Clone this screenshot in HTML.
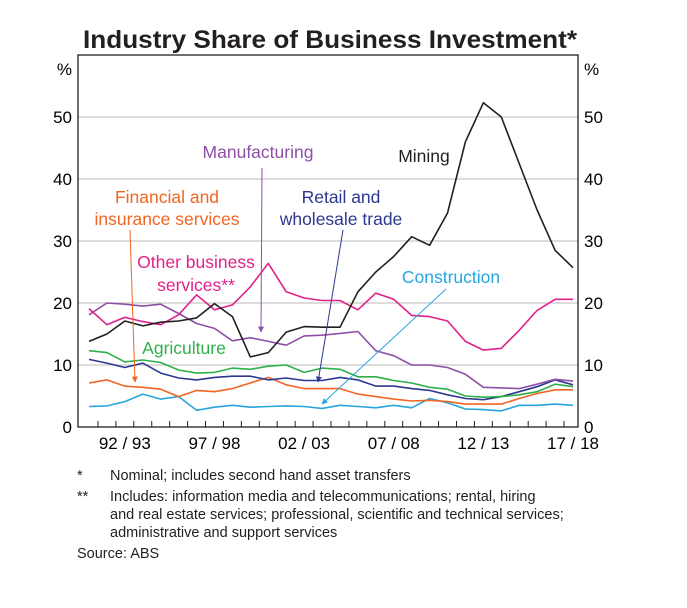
<!DOCTYPE html>
<html><head><meta charset="utf-8"><style>
body{margin:0;background:#fff;font-family:"Liberation Sans",sans-serif;}
svg text{font-family:"Liberation Sans",sans-serif;}
</style></head><body>
<svg id="chart" width="687" height="603" viewBox="0 0 687 603" xmlns="http://www.w3.org/2000/svg">
<defs>
<marker id="ah-orange" viewBox="0 0 10 10" refX="9" refY="5" markerWidth="6" markerHeight="8" orient="auto"><path d="M0,0L10,5L0,10z" fill="#f26522"/></marker>
<marker id="ah-purple" viewBox="0 0 10 10" refX="9" refY="5" markerWidth="6" markerHeight="8" orient="auto"><path d="M0,0L10,5L0,10z" fill="#8e4fa6"/></marker>
<marker id="ah-navy" viewBox="0 0 10 10" refX="9" refY="5" markerWidth="6" markerHeight="8" orient="auto"><path d="M0,0L10,5L0,10z" fill="#2b3990"/></marker>
<marker id="ah-blue" viewBox="0 0 10 10" refX="9" refY="5" markerWidth="6" markerHeight="8" orient="auto"><path d="M0,0L10,5L0,10z" fill="#27a6de"/></marker>
</defs>
<text x="83" y="48" textLength="494" lengthAdjust="spacingAndGlyphs" font-size="25" font-weight="bold" fill="#231f20">Industry Share of Business Investment*</text>
<g id="grid"></g>
<g id="series"></g>
<rect x="78" y="55" width="500" height="372" fill="none" stroke="#231f20" stroke-width="1.3"/>
<g id="axes"></g>
<text x="72" y="75" text-anchor="end" font-size="17">%</text>
<text x="584" y="75" font-size="17">%</text>

<g font-size="17.5">
<text x="258" y="158" text-anchor="middle" fill="#8e4fa6">Manufacturing</text>
<line x1="262" y1="168" x2="261" y2="332" stroke="#8e4fa6" stroke-width="1" marker-end="url(#ah-purple)"/>
<text x="424" y="162" text-anchor="middle" fill="#231f20">Mining</text>
<text x="167" y="203" text-anchor="middle" fill="#f26522">Financial and</text>
<text x="167" y="225" text-anchor="middle" fill="#f26522">insurance services</text>
<line x1="130" y1="230" x2="135" y2="382" stroke="#f26522" stroke-width="1" marker-end="url(#ah-orange)"/>
<text x="341" y="203" text-anchor="middle" fill="#2b3990">Retail and</text>
<text x="341" y="225" text-anchor="middle" fill="#2b3990">wholesale trade</text>
<line x1="343" y1="230" x2="318" y2="382" stroke="#2b3990" stroke-width="1" marker-end="url(#ah-navy)"/>
<text x="451" y="283" text-anchor="middle" fill="#27a6de">Construction</text>
<line x1="446" y1="289" x2="322" y2="404" stroke="#27a6de" stroke-width="1" marker-end="url(#ah-blue)"/>
<text x="196" y="268" text-anchor="middle" fill="#e0218a">Other business</text>
<text x="196" y="291" text-anchor="middle" fill="#e0218a">services**</text>
<text x="184" y="354" text-anchor="middle" fill="#2eb04a">Agriculture</text>
</g>

<g font-size="14.5" fill="#231f20">
<text x="77" y="480">*</text>
<text x="110" y="480">Nominal; includes second hand asset transfers</text>
<text x="77" y="501">**</text>
<text x="110" y="501">Includes: information media and telecommunications; rental, hiring</text>
<text x="110" y="519">and real estate services; professional, scientific and technical services;</text>
<text x="110" y="537">administrative and support services</text>
<text x="77" y="558">Source:   ABS</text>
</g>
</svg>
<script>
const years = ["90/91","91/92","92/93","93/94","94/95","95/96","96/97","97/98","98/99","99/00","00/01","01/02","02/03","03/04","04/05","05/06","06/07","07/08","08/09","09/10","10/11","11/12","12/13","13/14","14/15","15/16","16/17","17/18"];
const xTickLabels = ["92/93","97/98","02/03","07/08","12/13","17/18"];
const yTicks = [0,10,20,30,40,50];
const mining = [13.8,15.0,17.1,16.3,16.9,17.1,17.6,19.9,17.8,11.3,12.0,15.3,16.2,16.1,16.1,21.8,25,27.5,30.7,29.3,34.5,46,52.3,50,42.5,35,28.5,25.7];
const otherBusiness = [19.1,16.5,17.7,17.0,16.5,18.1,21.3,18.9,19.7,22.6,26.4,21.8,20.8,20.4,20.4,18.9,21.6,20.6,18.0,17.8,17.1,13.8,12.4,12.7,15.6,18.8,20.6,20.6];
const manufacturing = [18.1,20.0,19.8,19.5,19.8,18.3,16.7,15.9,13.9,14.4,13.8,13.2,14.7,14.8,15.1,15.4,12.3,11.5,10.0,10.0,9.6,8.5,6.4,6.3,6.2,6.9,7.7,7.4];
const agriculture = [12.3,12.0,10.5,10.8,10.4,9.2,8.7,8.8,9.5,9.3,9.8,10.0,8.8,9.5,9.3,8.1,8.1,7.5,7.1,6.4,6.1,5.0,4.8,4.9,5.2,5.7,6.9,6.5];
const retail = [10.9,10.3,9.6,10.3,8.7,7.9,7.6,8.0,8.2,8.2,7.6,7.9,7.5,7.5,8.0,7.6,6.6,6.6,6.2,5.9,5.2,4.6,4.4,4.9,5.7,6.5,7.6,6.8];
const financial = [7.1,7.6,6.6,6.4,6.1,4.9,5.9,5.7,6.2,7.1,8.0,6.8,6.2,6.2,6.2,5.3,4.9,4.5,4.2,4.3,4.1,3.7,3.7,3.7,4.6,5.4,6.0,6.0];
const construction = [3.3,3.4,4.1,5.3,4.5,4.9,2.7,3.2,3.5,3.2,3.3,3.4,3.3,3.0,3.5,3.3,3.1,3.5,3.1,4.6,3.9,2.9,2.8,2.6,3.5,3.5,3.7,3.5];

const NS='http://www.w3.org/2000/svg';
const x0=89, x1=573, yTop=55, yBot=427, yMax=60;
function xScale(i){return x0+(x1-x0)*i/(years.length-1);}
function yScale(v){return yBot-(yBot-yTop)*v/yMax;}
const grid=document.getElementById('grid'), axes=document.getElementById('axes'), series=document.getElementById('series');
yTicks.forEach(t=>{
  const y=yScale(t);
  if(t>0){const l=document.createElementNS(NS,'line');
    l.setAttribute('x1',78);l.setAttribute('x2',578);l.setAttribute('y1',y);l.setAttribute('y2',y);
    l.setAttribute('stroke','#c8c8c8');l.setAttribute('stroke-width','1.3');
    
    
    grid.appendChild(l);}
  [['end',72],['start',584]].forEach(([a,x])=>{
    const tx=document.createElementNS(NS,'text');
    tx.setAttribute('x',x);tx.setAttribute('y',y+6);tx.setAttribute('text-anchor',a);tx.setAttribute('font-size','17');
    tx.textContent=t;
    
    
    axes.appendChild(tx);});
});
for(let i=0;i<years.length-1;i++){
  const x=(xScale(i)+xScale(i+1))/2;
  const l=document.createElementNS(NS,'line');
  l.setAttribute('x1',x);l.setAttribute('x2',x);l.setAttribute('y1',yBot);l.setAttribute('y2',yBot-6);
  l.setAttribute('stroke','#231f20');l.setAttribute('stroke-width','1');
  
  
  axes.appendChild(l);
}
xTickLabels.forEach(lb=>{
  const i=years.indexOf(lb);
  const tx=document.createElementNS(NS,'text');
  tx.setAttribute('x',xScale(i));tx.setAttribute('y',yBot+22);tx.setAttribute('text-anchor','middle');tx.setAttribute('font-size','17');
  tx.textContent=lb.replace('/',' / ');
  
  
  axes.appendChild(tx);
});
const list=[[construction,'#27a6de','line-construction'],[financial,'#f26522','line-financial'],[retail,'#2b3990','line-retail'],[agriculture,'#2eb04a','line-agriculture'],[manufacturing,'#8e4fa6','line-manufacturing'],[otherBusiness,'#e0218a','line-other-business'],[mining,'#231f20','line-mining']];
list.forEach(([d,c,n])=>{
  const p=document.createElementNS(NS,'polyline');
  p.setAttribute('points',d.map((v,i)=>xScale(i).toFixed(1)+','+yScale(v).toFixed(1)).join(' '));
  p.setAttribute('fill','none');p.setAttribute('stroke',c);p.setAttribute('stroke-width','1.6');p.setAttribute('stroke-linejoin','round');
  
  
  series.appendChild(p);
});
</script>
</body></html>
